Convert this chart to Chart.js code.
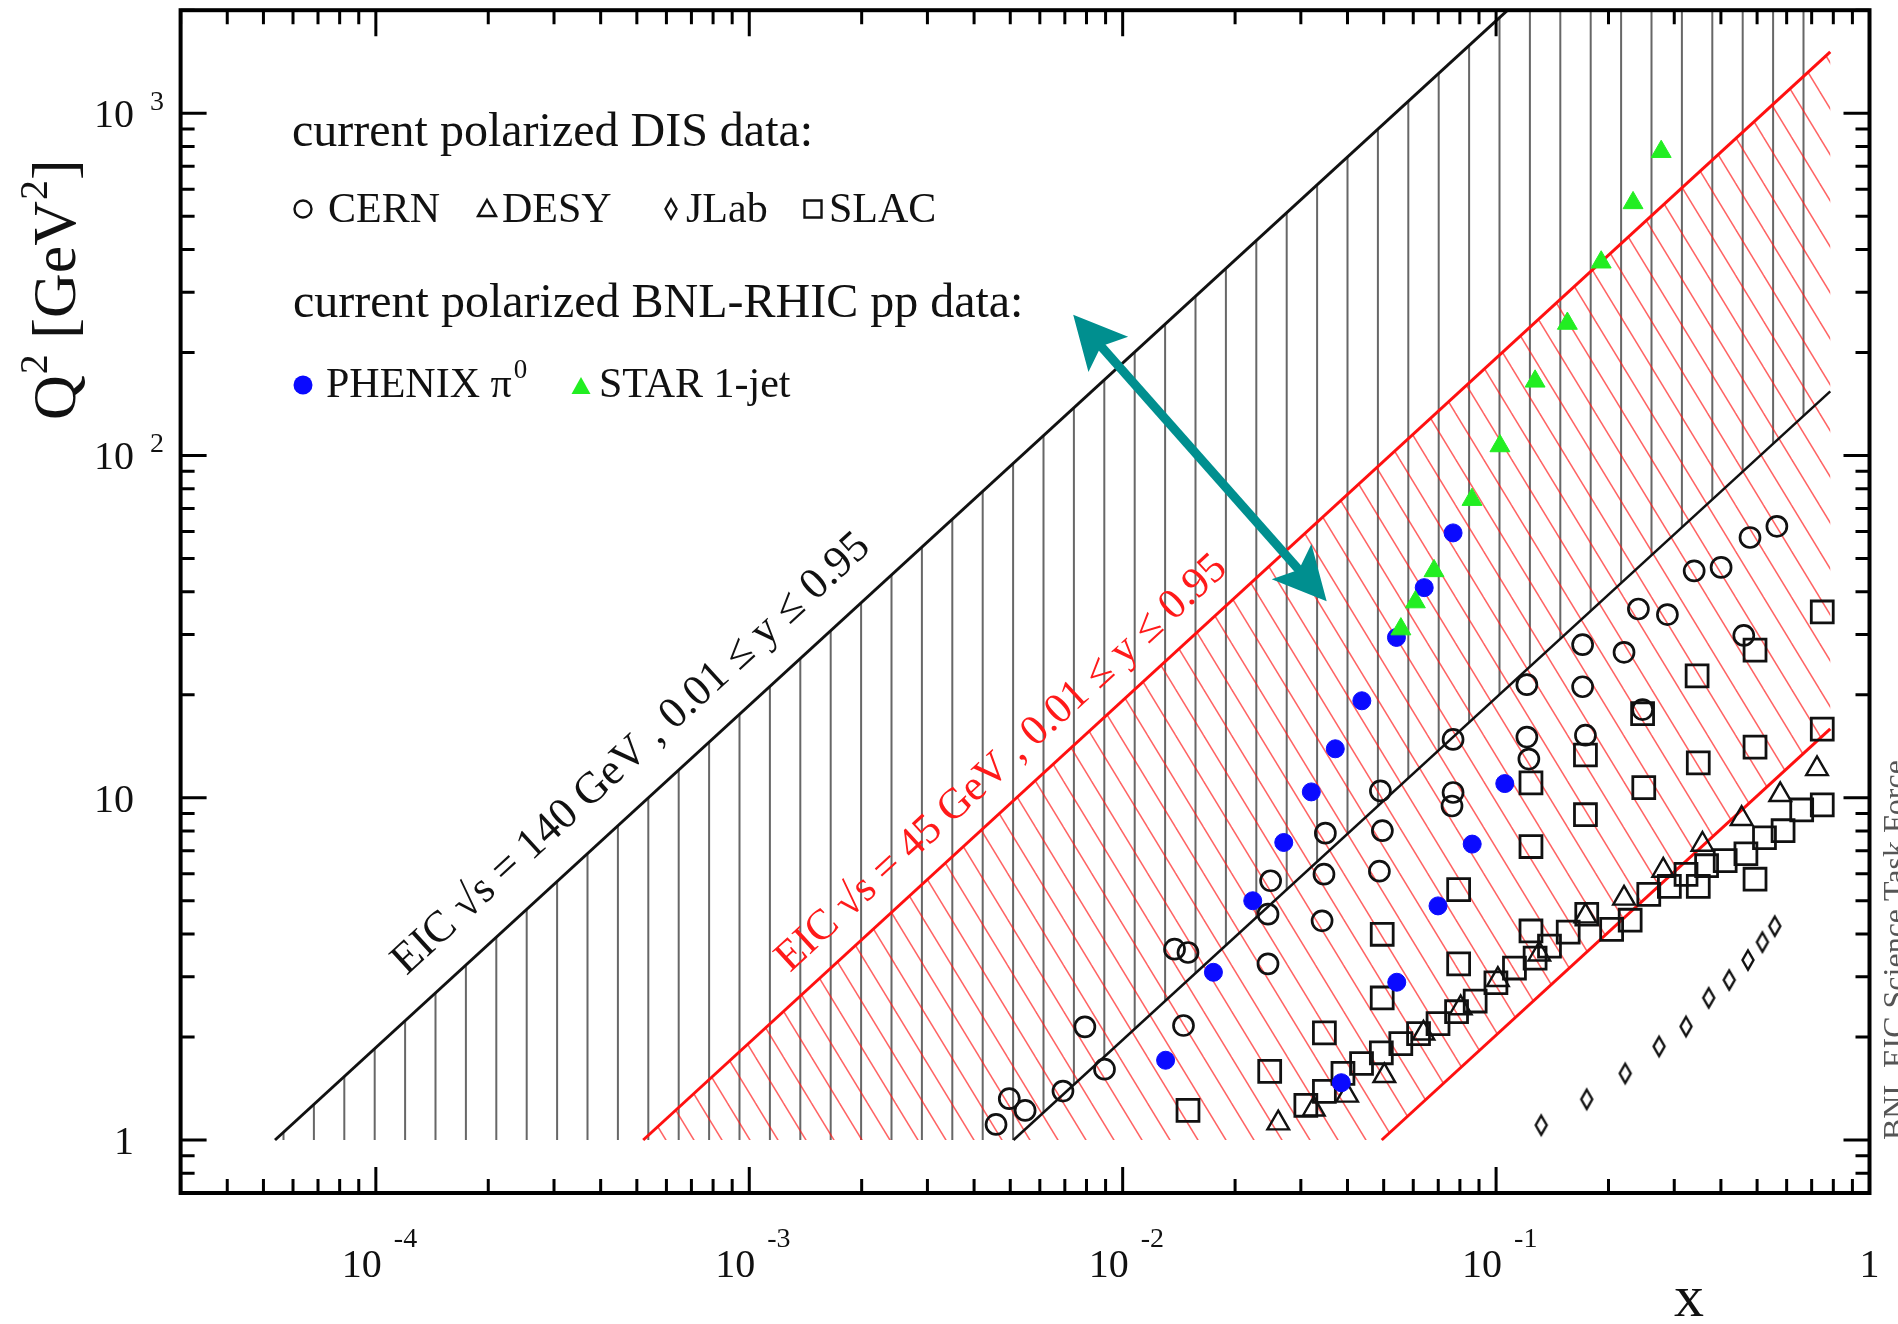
<!DOCTYPE html>
<html>
<head>
<meta charset="utf-8">
<title>Polarized DIS and pp data coverage with EIC kinematic reach</title>
<script src="https://cdn.jsdelivr.net/npm/chart.js@4.4.0/dist/chart.umd.min.js"></script>
<style>
  html, body { margin: 0; padding: 0; background: #ffffff; }
  canvas { display: block; }
</style>
</head>
<body>
<canvas id="c" width="1898" height="1324"></canvas>
<script>
// ---------------- data: (x, Q^2 in GeV^2) ----------------
const cernX  = [0.00458, 0.00497, 0.00548, 0.00692, 0.00894, 0.00792, 0.01455, 0.01377, 0.01496, 0.0245, 0.0245, 0.0249,
                0.0342, 0.0346, 0.0349, 0.0487, 0.0496, 0.0490, 0.0762, 0.0767, 0.0767, 0.1209, 0.1209, 0.1224,
                0.1705, 0.1705, 0.1735, 0.2201, 0.2405, 0.2468, 0.2876, 0.3392, 0.4005, 0.4606, 0.4786, 0.5649];
const cernQ2 = [1.11, 1.32, 1.22, 1.39, 1.61, 2.14, 2.16, 3.61, 3.53, 3.27, 4.57, 5.72,
                4.37, 5.98, 7.88, 6.10, 8.01, 10.47, 9.46, 10.36, 14.8, 21.4, 15.04, 12.97,
                28.0, 21.1, 15.23, 26.6, 35.6, 18.1, 34.3, 46.0, 47.1, 29.8, 57.6, 62.1];

const desyX  = [0.0261, 0.0325, 0.0399, 0.0502, 0.0639, 0.0804, 0.1011, 0.1305, 0.1735, 0.2201, 0.2803, 0.3570, 0.4546, 0.5766, 0.7235];
const desyQ2 = [1.12, 1.23, 1.35, 1.54, 2.05, 2.43, 2.94, 3.49, 4.51, 5.08, 6.13, 7.30, 8.68, 10.2, 12.14];

const jlabX  = [0.1321, 0.1749, 0.2217, 0.2732, 0.3226, 0.3710, 0.4211, 0.4727, 0.5166, 0.5576];
const jlabQ2 = [1.105, 1.315, 1.565, 1.877, 2.146, 2.602, 2.935, 3.356, 3.786, 4.214];

const slacX  = [0.01496, 0.02476, 0.03094, 0.03469, 0.03469, 0.0389, 0.04362, 0.04928, 0.04955, 0.04955,
                0.05557, 0.06199, 0.06991, 0.07837, 0.07938, 0.07938, 0.0879, 0.0999, 0.112, 0.124,
                0.124, 0.124, 0.1272, 0.139, 0.156, 0.1735, 0.1735, 0.1749, 0.2039, 0.2286,
                0.2486, 0.2468, 0.2564, 0.2911, 0.3226, 0.3479, 0.3479, 0.3454, 0.3662, 0.4107,
                0.4667, 0.4937, 0.4937, 0.4937, 0.5233, 0.5869, 0.6583, 0.7473, 0.7473, 0.7473];
const slacQ2 = [1.22, 1.586, 1.263, 1.387, 2.056, 1.565, 1.673, 1.798, 2.60, 3.99,
                1.913, 2.045, 2.187, 2.37, 3.27, 5.39, 2.547, 2.88, 3.18, 4.08,
                7.20, 11.05, 3.40, 3.686, 4.05, 8.92, 13.33, 4.566, 4.124, 4.386,
                10.7, 17.6, 5.22, 5.51, 5.97, 5.51, 12.64, 22.7, 6.33, 6.55,
                6.86, 5.78, 14.06, 27.0, 7.64, 8.01, 9.21, 9.53, 15.86, 34.9];

const phenixX  = [0.01303, 0.0175, 0.0223, 0.0270, 0.0320, 0.0371, 0.0437, 0.0541, 0.0642, 0.0767,
                  0.0385, 0.0542, 0.0699, 0.0863, 0.1055];
const phenixQ2 = [1.71, 3.09, 5.00, 7.40, 10.4, 13.9, 19.2, 29.4, 41.1, 59.4,
                  1.47, 2.89, 4.83, 7.32, 11.0];

const starX  = [0.0556, 0.0608, 0.0682, 0.0862, 0.1024, 0.1272, 0.1552, 0.1912, 0.2327, 0.2768];
const starQ2 = [31.1, 37.3, 46.0, 74.3, 106.6, 164.7, 243, 367, 547, 772];

// EIC kinematic limits (y = 0.95 upper edge, y = 0.01 lower edge)
const eic140UpperX = [5.37e-5, 0.1074];  const eic140UpperQ2 = [1, 2000];
const eic140LowerX = [5.1e-3, 0.785];    const eic140LowerQ2 = [1, 154];
const eic45UpperX  = [5.2e-4, 0.785];    const eic45UpperQ2  = [1, 1510];
const eic45LowerX  = [0.0494, 0.785];    const eic45LowerQ2  = [1, 15.9];

// axis ranges and decade labels
const xRange = [3e-5, 1];
const q2Range = [0.7, 2000];
const xTickExponents = [-4, -3, -2, -1, 0];
const yTickExponents = [0, 1, 2, 3];

// arrow between the two EIC bands (x, Q^2 at each tip)
const arrowX  = [0.00737, 0.03518];
const arrowQ2 = [257.8, 37.5];

// ---------------- helpers ----------------
const SERIF = '"Liberation Serif", "Times New Roman", serif';
const canvas = document.getElementById('c');
const mainCtx = canvas.getContext('2d');

const pts = (xs, ys) => xs.map((v, i) => ({x: v, y: ys[i]}));

function hatchPattern(kind) {
  const t = document.createElement('canvas');
  const g = t.getContext('2d');
  if (kind === 'vertical') {
    t.width = 152; t.height = 8;
    g.fillStyle = 'rgba(60,60,60,0.78)';
    for (const px of [9.9, 40.3, 70.7, 101.1, 131.5]) g.fillRect(px - 1, 0, 2, 8);
  } else {
    t.width = 28; t.height = 46;
    g.strokeStyle = 'rgba(255,25,25,0.68)';
    g.lineWidth = 1.5;
    for (let k = -1; k <= 1; k++) {
      g.beginPath();
      g.moveTo(k * 28 - 28, -46);
      g.lineTo(k * 28 + 56, 92);
      g.stroke();
    }
  }
  return mainCtx.createPattern(t, 'repeat');
}

function diamondImage() {
  const t = document.createElement('canvas');
  t.width = 18; t.height = 26;
  const g = t.getContext('2d');
  g.strokeStyle = '#111';
  g.lineWidth = 2.4;
  g.beginPath();
  g.moveTo(9, 3.5); g.lineTo(14.5, 13); g.lineTo(9, 22.5); g.lineTo(3.5, 13);
  g.closePath();
  g.stroke();
  return t;
}
const diamond = diamondImage();

// closed regions of the two EIC bands
const band140 = [
  {x: eic140UpperX[0], y: eic140UpperQ2[0]},
  {x: eic140UpperX[1], y: eic140UpperQ2[1]},
  {x: eic140LowerX[1], y: eic140UpperQ2[1]},
  {x: eic140LowerX[1], y: eic140LowerQ2[1]},
  {x: eic140LowerX[0], y: eic140LowerQ2[0]}
];
const band45 = [
  {x: eic45UpperX[0], y: eic45UpperQ2[0]},
  {x: eic45UpperX[1], y: eic45UpperQ2[1]},
  {x: eic45LowerX[1], y: eic45LowerQ2[1]},
  {x: eic45LowerX[0], y: eic45LowerQ2[0]}
];

function lineSet(xs, ys, color, width, order) {
  return {data: pts(xs, ys), showLine: true, borderColor: color, borderWidth: width,
          pointRadius: 0, fill: false, tension: 0, order};
}

// ---------------- overlay: frame, ticks, labels, legend, arrow ----------------
function drawHead(ctx, tx, ty, ux, uy) {
  const HL = 53, HW = 26.5, NOTCH = 42;
  const nx = -uy, ny = ux;
  ctx.beginPath();
  ctx.moveTo(tx, ty);
  ctx.lineTo(tx - ux * HL + nx * HW, ty - uy * HL + ny * HW);
  ctx.lineTo(tx - ux * NOTCH, ty - uy * NOTCH);
  ctx.lineTo(tx - ux * HL - nx * HW, ty - uy * HL - ny * HW);
  ctx.closePath();
  ctx.fill();
}

function marker(ctx, kind, x, y) {
  ctx.save();
  ctx.lineWidth = 2.4;
  ctx.strokeStyle = '#111';
  ctx.beginPath();
  if (kind === 'circle') {
    ctx.arc(x, y, 8.5, 0, Math.PI * 2); ctx.stroke();
  } else if (kind === 'triangle') {
    ctx.moveTo(x, y - 10); ctx.lineTo(x + 9, y + 6); ctx.lineTo(x - 9, y + 6); ctx.closePath(); ctx.stroke();
  } else if (kind === 'rect') {
    ctx.rect(x - 8.5, y - 8.5, 17, 17); ctx.stroke();
  } else if (kind === 'diamond') {
    ctx.drawImage(diamond, x - diamond.width / 2, y - diamond.height / 2);
  } else if (kind === 'dot') {
    ctx.fillStyle = '#0a0aff'; ctx.arc(x, y, 9.5, 0, Math.PI * 2); ctx.fill();
  } else if (kind === 'filltri') {
    ctx.fillStyle = '#22ee22';
    ctx.moveTo(x, y - 10); ctx.lineTo(x + 9.5, y + 7); ctx.lineTo(x - 9.5, y + 7); ctx.closePath(); ctx.fill();
  }
  ctx.restore();
}

function lineLabel(ctx, xs, ys, lx, lq, anchorX, offset, text, color, size) {
  const p0x = xs.getPixelForValue(lx[0]), p0y = ys.getPixelForValue(lq[0]);
  const p1x = xs.getPixelForValue(lx[1]), p1y = ys.getPixelForValue(lq[1]);
  const ang = Math.atan2(p1y - p0y, p1x - p0x);
  const ax = xs.getPixelForValue(anchorX);
  const ay = p0y + (ax - p0x) * (p1y - p0y) / (p1x - p0x);
  ctx.save();
  ctx.translate(ax + offset * Math.sin(ang), ay - offset * Math.cos(ang));
  ctx.rotate(ang);
  ctx.fillStyle = color;
  ctx.font = size + 'px ' + SERIF;
  ctx.textAlign = 'left';
  ctx.textBaseline = 'alphabetic';
  ctx.fillText(text, 0, 0);
  ctx.restore();
}

const overlay = {
  id: 'overlay',
  afterDatasetsDraw(chart) {
    const ctx = chart.ctx;
    const xs = chart.scales.x, ys = chart.scales.y;
    const a = chart.chartArea;

    // arrow
    ctx.save();
    const ax0 = xs.getPixelForValue(arrowX[0]), ay0 = ys.getPixelForValue(arrowQ2[0]);
    const ax1 = xs.getPixelForValue(arrowX[1]), ay1 = ys.getPixelForValue(arrowQ2[1]);
    const L = Math.hypot(ax1 - ax0, ay1 - ay0);
    const ux = (ax1 - ax0) / L, uy = (ay1 - ay0) / L;
    ctx.strokeStyle = '#008f8f';
    ctx.fillStyle = '#008f8f';
    ctx.lineWidth = 9;
    ctx.beginPath();
    ctx.moveTo(ax0 + ux * 40, ay0 + uy * 40);
    ctx.lineTo(ax1 - ux * 40, ay1 - uy * 40);
    ctx.stroke();
    drawHead(ctx, ax1, ay1, ux, uy);
    drawHead(ctx, ax0, ay0, -ux, -uy);
    ctx.restore();

    // band labels
    lineLabel(ctx, xs, ys, eic140UpperX, eic140UpperQ2, 1.381e-4, 32,
              'EIC \u221As = 140 GeV , 0.01 \u2264 y \u2264 0.95', '#111', 44);
    lineLabel(ctx, xs, ys, eic45UpperX, eic45UpperQ2, 1.42e-3, 24,
              'EIC \u221As = 45 GeV , 0.01 \u2264 y \u2264 0.95', '#ff1a1a', 43);

    // legend block
    ctx.save();
    ctx.fillStyle = '#111';
    ctx.textAlign = 'left';
    ctx.textBaseline = 'alphabetic';
    ctx.font = '48px ' + SERIF;
    ctx.fillText('current polarized DIS data:', 292, 146);
    ctx.fillText('current polarized BNL-RHIC pp data:', 293, 317);
    ctx.font = '42px ' + SERIF;
    marker(ctx, 'circle', 303, 209);   ctx.fillText('CERN', 328, 222);
    marker(ctx, 'triangle', 487, 210); ctx.fillText('DESY', 502, 222);
    marker(ctx, 'diamond', 671, 209);  ctx.fillText('JLab', 686, 222);
    marker(ctx, 'rect', 813, 209);     ctx.fillText('SLAC', 829, 222);
    marker(ctx, 'dot', 303, 385);      ctx.fillText('PHENIX \u03C0', 326, 397);
    const phW = ctx.measureText('PHENIX \u03C0').width;
    ctx.font = '27px ' + SERIF;
    ctx.fillText('0', 326 + phW + 2, 378);
    ctx.font = '42px ' + SERIF;
    marker(ctx, 'filltri', 581, 387);  ctx.fillText('STAR 1-jet', 599, 397);
    ctx.restore();

    // frame
    ctx.save();
    ctx.strokeStyle = '#000';
    ctx.lineWidth = 4;
    ctx.strokeRect(a.left, a.top, a.right - a.left, a.bottom - a.top);

    // ticks (inward on all four sides)
    ctx.lineWidth = 3;
    ctx.beginPath();
    for (let e = -5; e <= 0; e++) {
      for (let m = 1; m <= 9; m++) {
        const v = m * Math.pow(10, e);
        if (v < xRange[0] * 0.999 || v > xRange[1] * 1.001) continue;
        const px = xs.getPixelForValue(v);
        const len = m === 1 ? 26 : 14;
        ctx.moveTo(px, a.bottom); ctx.lineTo(px, a.bottom - len);
        ctx.moveTo(px, a.top);    ctx.lineTo(px, a.top + len);
      }
    }
    for (let e = -1; e <= 3; e++) {
      for (let m = 1; m <= 9; m++) {
        const v = m * Math.pow(10, e);
        if (v < q2Range[0] * 0.999 || v > q2Range[1] * 1.001) continue;
        const py = ys.getPixelForValue(v);
        const len = m === 1 ? 26 : 14;
        ctx.moveTo(a.left, py);  ctx.lineTo(a.left + len, py);
        ctx.moveTo(a.right, py); ctx.lineTo(a.right - len, py);
      }
    }
    ctx.stroke();

    // tick labels
    ctx.fillStyle = '#111';
    ctx.textBaseline = 'alphabetic';
    for (const e of xTickExponents) {
      const px = xs.getPixelForValue(Math.pow(10, e));
      ctx.font = '40px ' + SERIF;
      if (e === 0) {
        ctx.textAlign = 'center';
        ctx.fillText('1', px, 1277);
      } else {
        ctx.textAlign = 'right';
        ctx.fillText('10', px + 6, 1277);
        ctx.textAlign = 'left';
        ctx.font = '28px ' + SERIF;
        ctx.fillText(String(e), px + 18, 1247);
      }
    }
    for (const e of yTickExponents) {
      const py = ys.getPixelForValue(Math.pow(10, e));
      ctx.font = '40px ' + SERIF;
      ctx.textAlign = 'right';
      if (e === 0) {
        ctx.fillText('1', 134, py + 14);
      } else if (e === 1) {
        ctx.fillText('10', 134, py + 14);
      } else {
        ctx.fillText('10', 134, py + 14);
        ctx.textAlign = 'left';
        ctx.font = '28px ' + SERIF;
        ctx.fillText(String(e), 150, py - 3);
      }
    }

    // axis titles
    ctx.textAlign = 'left';
    ctx.font = '60px ' + SERIF;
    ctx.fillText('x', 1674, 1316);

    ctx.save();
    ctx.translate(75, 420);
    ctx.rotate(-Math.PI / 2);
    let cx = 0;
    const big = '62px ' + SERIF, small = '40px ' + SERIF;
    ctx.font = big;   ctx.fillText('Q', cx, 0); cx += ctx.measureText('Q').width;
    ctx.font = small; ctx.fillText('2', cx + 1, -28); cx += ctx.measureText('2').width + 1;
    ctx.font = big;   ctx.fillText(' [GeV', cx, 0); cx += ctx.measureText(' [GeV').width;
    ctx.font = small; ctx.fillText('2', cx + 1, -28); cx += ctx.measureText('2').width + 1;
    ctx.font = big;   ctx.fillText(']', cx, 0);
    ctx.restore();

    // side note
    ctx.save();
    ctx.translate(1905, 1140);
    ctx.rotate(-Math.PI / 2);
    ctx.fillStyle = '#555';
    ctx.font = '32px ' + SERIF;
    ctx.textAlign = 'left';
    ctx.fillText('BNL EIC Science Task Force', 0, 0);
    ctx.restore();

    ctx.restore();
  }
};

// ---------------- chart ----------------
const open = 'rgba(0,0,0,0)';
new Chart(canvas, {
  type: 'scatter',
  data: {
    datasets: [
      {label: 'STAR 1-jet', data: pts(starX, starQ2), pointStyle: 'triangle', pointRadius: 11.5,
       backgroundColor: '#22ee22', borderColor: '#22ee22', borderWidth: 1, order: 0},
      {label: 'PHENIX \u03C0\u2070', data: pts(phenixX, phenixQ2), pointStyle: 'circle', pointRadius: 9,
       backgroundColor: '#0a0aff', borderColor: '#0a0aff', borderWidth: 1, order: 1},
      {label: 'CERN', data: pts(cernX, cernQ2), pointStyle: 'circle', pointRadius: 10,
       backgroundColor: open, borderColor: '#111', borderWidth: 2.7, order: 2},
      {label: 'DESY', data: pts(desyX, desyQ2), pointStyle: 'triangle', pointRadius: 12.5,
       backgroundColor: open, borderColor: '#111', borderWidth: 2.4, order: 3},
      {label: 'JLab', data: pts(jlabX, jlabQ2), pointStyle: diamond, pointRadius: 9, order: 4},
      {label: 'SLAC', data: pts(slacX, slacQ2), pointStyle: 'rect', pointRadius: 15.5,
       backgroundColor: open, borderColor: '#111', borderWidth: 2.8, order: 5},

      lineSet(eic140UpperX, eic140UpperQ2, '#111', 3, 10),
      lineSet(eic140LowerX, eic140LowerQ2, '#111', 2.5, 11),
      lineSet(eic45UpperX, eic45UpperQ2, '#ff1010', 3, 12),
      lineSet(eic45LowerX, eic45LowerQ2, '#ff1010', 3, 13),

      {label: 'EIC 45 GeV', data: band45, showLine: true, borderColor: open, borderWidth: 0.01,
       pointRadius: 0, tension: 0, fill: 'shape', backgroundColor: hatchPattern('diagonal'), order: 20},
      {label: 'EIC 140 GeV', data: band140, showLine: true, borderColor: open, borderWidth: 0.01,
       pointRadius: 0, tension: 0, fill: 'shape', backgroundColor: hatchPattern('vertical'), order: 21}
    ]
  },
  options: {
    responsive: false,
    animation: false,
    events: [],
    layout: {autoPadding: false, padding: {left: 180.6, top: 10.2, right: 28.5, bottom: 131}},
    scales: {
      x: {type: 'logarithmic', min: xRange[0], max: xRange[1], display: false},
      y: {type: 'logarithmic', min: q2Range[0], max: q2Range[1], display: false}
    },
    plugins: {legend: {display: false}, tooltip: {enabled: false}}
  },
  plugins: [overlay]
});
</script>
</body>
</html>
